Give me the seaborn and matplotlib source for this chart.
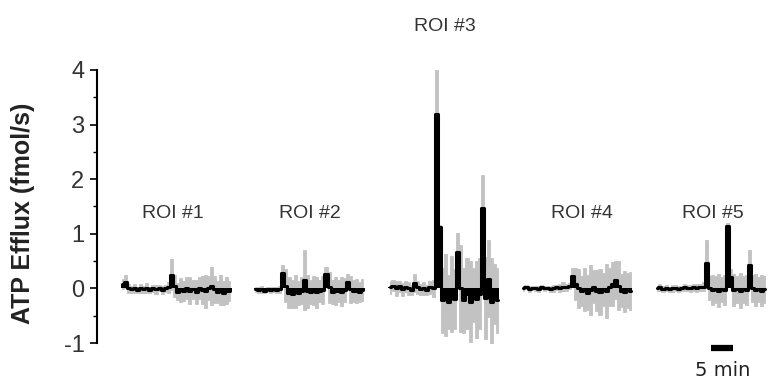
import numpy as np
import pandas as pd
import matplotlib
matplotlib.use("Agg")
import matplotlib.pyplot as plt
import seaborn as sns

# ---------------- data (fmol/s), sampled every 0.7 min ----------------
roi_names = ["ROI #1", "ROI #2", "ROI #3", "ROI #4", "ROI #5"]
roi_start_min = [0.0, 30.2, 60.8, 91.0, 121.4]
dt_min = 0.7

mean1 = [0.08, 0.12, 0.0, -0.02, 0.0, -0.03, 0.0, -0.02, 0.0, -0.03, 0.0, -0.02, 0.01, -0.03, 0.0, 0.02,
         0.25, 0.05, -0.06, -0.03, -0.05, 0.0, -0.04, -0.02, -0.06, 0.0, -0.03, -0.05, 0.0, 0.05, -0.02,
         -0.06, -0.03, -0.08, -0.04, -0.05]
sd1 = [0.1, 0.12, 0.08, 0.07, 0.08, 0.06, 0.08, 0.07, 0.09, 0.06, 0.07, 0.08, 0.06, 0.08, 0.07, 0.1,
       0.28, 0.2, 0.15, 0.22, 0.18, 0.2, 0.25, 0.18, 0.22, 0.2, 0.26, 0.3, 0.22, 0.35, 0.25, 0.2, 0.28,
       0.22, 0.25, 0.18]

mean2 = [-0.02, -0.03, -0.02, -0.04, -0.02, -0.03, -0.02, -0.03, -0.02, 0.28, 0.05, -0.08, -0.1, -0.05,
         -0.08, -0.04, 0.15, -0.05, -0.06, -0.04, -0.07, -0.05, -0.03, 0.27, 0.02, -0.06, -0.05, -0.04,
         -0.06, -0.03, 0.12, -0.02, -0.05, -0.04, -0.06, -0.03]
sd2 = [0.05, 0.05, 0.06, 0.05, 0.05, 0.06, 0.05, 0.05, 0.06, 0.15, 0.3, 0.28, 0.25, 0.3, 0.22, 0.25,
       0.55, 0.3, 0.22, 0.26, 0.28, 0.2, 0.25, 0.12, 0.28, 0.22, 0.25, 0.2, 0.26, 0.22, 0.15, 0.25, 0.2,
       0.22, 0.18, 0.2]

mean3 = [0.02, 0.05, 0.0, 0.04, -0.02, 0.03, 0.0, -0.03, 0.1, 0.02, -0.02, 0.0, -0.03, 0.02, 0.0,
         3.2, 1.12, -0.22, -0.12, -0.25, -0.1, -0.2, 0.66, 0.0, -0.22, -0.1, -0.24, -0.12, -0.2, -0.1,
         1.48, -0.18, 0.18, -0.24, -0.1, -0.22]
sd3 = [0.12, 0.1, 0.14, 0.1, 0.12, 0.1, 0.12, 0.1, 0.17, 0.12, 0.1, 0.12, 0.1, 0.12, 0.15,
       0.8, 0.05, 0.6, 0.75, 0.5, 0.7, 0.55, 0.35, 0.8, 0.6, 0.65, 0.75, 0.5, 0.7, 0.65,
       0.6, 0.75, 0.7, 0.8, 0.55, 0.6]

mean4 = [0.0, 0.02, -0.01, 0.01, 0.0, -0.01, 0.02, 0.0, 0.01, -0.01, 0.0, 0.02, 0.01, 0.03, 0.02, 0.04,
         0.22, 0.08, 0.0, -0.05, -0.02, -0.08, -0.03, 0.03, -0.04, -0.06, -0.02, -0.05, 0.02, 0.08, 0.15,
         0.05, -0.04, -0.06, -0.03, -0.05]
sd4 = [0.04, 0.04, 0.05, 0.04, 0.04, 0.05, 0.04, 0.05, 0.04, 0.05, 0.06, 0.05, 0.07, 0.08, 0.06, 0.06,
       0.16, 0.3, 0.35, 0.28, 0.4, 0.32, 0.45, 0.3, 0.38, 0.42, 0.3, 0.5, 0.35, 0.4, 0.35, 0.45, 0.3,
       0.38, 0.32, 0.35]

mean5 = [0.0, 0.02, -0.01, 0.01, -0.02, 0.0, 0.01, -0.01, 0.0, 0.02, 0.01, 0.0, 0.02, 0.01, 0.02, 0.03,
         0.46, 0.0, -0.03, -0.02, -0.04, -0.02, -0.03, 1.15, 0.2, -0.03, -0.02, -0.04, -0.02, -0.03, 0.42,
         0.0, -0.03, -0.02, -0.04, -0.02]
sd5 = [0.05, 0.06, 0.05, 0.06, 0.05, 0.06, 0.05, 0.06, 0.05, 0.06, 0.05, 0.07, 0.06, 0.07, 0.06, 0.08,
       0.42, 0.22, 0.28, 0.25, 0.3, 0.22, 0.28, 0.05, 0.15, 0.3, 0.25, 0.32, 0.24, 0.28, 0.28, 0.25, 0.3,
       0.22, 0.28, 0.24]

means = [mean1, mean2, mean3, mean4, mean5]
sds = [sd1, sd2, sd3, sd4, sd5]

y_ticks = [-1, 0, 1, 2, 3, 4]
scale_bar_min = 5

# ---------------- build table ----------------
rows = []
for name, t0, m, s in zip(roi_names, roi_start_min, means, sds):
    for i, (mv, sv) in enumerate(zip(m, s)):
        rows.append({"roi": name, "t": t0 + i * dt_min, "mean": mv, "sd": sv})
df = pd.DataFrame(rows)
df["lo"] = df["mean"] - df["sd"]
df["hi"] = df["mean"] + df["sd"]

# ---------------- plot ----------------
sns.set_theme(style="white")
plt.rcParams["font.family"] = ["Liberation Sans", "DejaVu Sans"]

fig = plt.figure(figsize=(7.7, 3.85), dpi=100)
ax = fig.add_axes([97 / 770, 42 / 385, 1 - 97 / 770, 273 / 385])

for name in roi_names:
    d = df[df["roi"] == name]
    # grey: mean +/- SD
    ax.fill_between(d["t"], d["lo"], d["hi"], step="mid", color="#c2c2c2", lw=0.6,
                    edgecolor="#c2c2c2", zorder=1)
    # dense black trace: filled from baseline to mean, outlined by the stepped mean
    ax.bar(d["t"], d["mean"], width=dt_min, color="black", linewidth=0, zorder=2)
    sns.lineplot(data=d, x="t", y="mean", ax=ax, color="black", lw=2.2,
                 drawstyle="steps-mid", estimator=None, legend=False, zorder=3)

ax.set_xlim(-5.7, 147.1)
ax.set_ylim(-1, 4)
ax.set_yticks(y_ticks)
ax.set_yticks(np.arange(-1, 4.01, 0.5), minor=True)
ax.set_yticklabels([str(v) for v in y_ticks], fontsize=17, color="#333333")
ax.tick_params(axis="y", which="major", direction="out", length=5, width=1.2, color="black",
               left=True, pad=4)
ax.tick_params(axis="y", which="minor", direction="out", length=3, width=1.0, color="black", left=True)
ax.set_xticks([])
ax.set_xlabel("")
ax.set_ylabel("ATP Efflux (fmol/s)", fontsize=18, fontweight="bold", color="#222222")
ax.yaxis.label.set_va("center")
ax.yaxis.set_label_coords(-0.110, 0.475)
for sp in ["top", "right", "bottom"]:
    ax.spines[sp].set_visible(False)
ax.spines["left"].set_color("black")
ax.spines["left"].set_linewidth(1.5)

# ROI labels
label_pos = [(11.6, 1.37), (42.7, 1.37), (73.3, 4.8), (104.4, 1.37), (134.2, 1.37)]
for name, (x, y) in zip(roi_names, label_pos):
    ax.text(x, y, name, ha="center", va="center", fontsize=14, color="#333333", clip_on=False)

# scale bar
sb_x0 = 133.8
ax.plot([sb_x0, sb_x0 + scale_bar_min], [-1.1, -1.1], color="black", lw=4.5,
        solid_capstyle="butt", clip_on=False)
ax.text(sb_x0 + scale_bar_min / 2, -1.5, f"{scale_bar_min} min", ha="center", va="center",
        fontsize=14, family="DejaVu Sans", color="#222222", clip_on=False)

fig.savefig("out.png", dpi=100)
